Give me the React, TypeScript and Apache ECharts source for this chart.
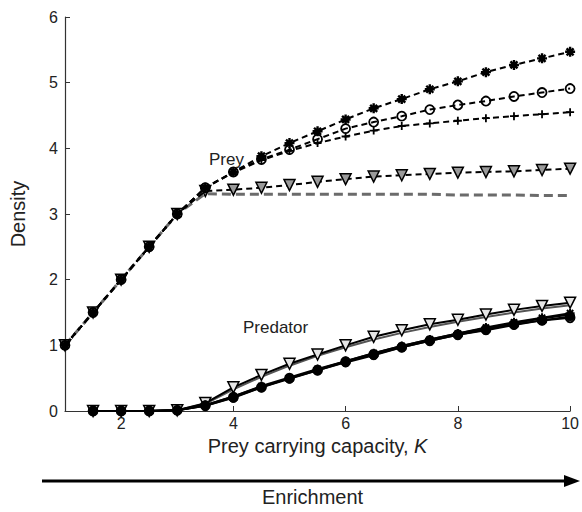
import React, { useEffect, useRef } from "react";
import * as echarts from "echarts";

const K = [1, 1.5, 2, 2.5, 3, 3.5, 4, 4.5, 5, 5.5, 6, 6.5, 7, 7.5, 8, 8.5, 9, 9.5, 10];
const K_PRED = K.slice(1);

const preyStar = [1, 1.5, 2, 2.5, 3, 3.4, 3.64, 3.88, 4.08, 4.26, 4.44, 4.61, 4.75, 4.9, 5.02, 5.16, 5.27, 5.37, 5.47];
const preyCircle = [1, 1.5, 2, 2.5, 3, 3.4, 3.64, 3.83, 3.98, 4.14, 4.3, 4.4, 4.49, 4.59, 4.66, 4.72, 4.79, 4.85, 4.91];
const preyPlus = [1, 1.5, 2, 2.5, 3, 3.4, 3.63, 3.82, 3.96, 4.08, 4.18, 4.27, 4.34, 4.38, 4.42, 4.46, 4.49, 4.52, 4.55];
const preyTri = [1, 1.5, 2, 2.5, 3, 3.35, 3.37, 3.4, 3.44, 3.49, 3.53, 3.57, 3.59, 3.61, 3.63, 3.64, 3.65, 3.67, 3.69];
const preyGray = [1, 1.5, 2, 2.5, 3, 3.31, 3.3, 3.3, 3.3, 3.3, 3.3, 3.3, 3.3, 3.3, 3.29, 3.29, 3.29, 3.28, 3.28];

const predTri = [0, 0, 0, 0.01, 0.12, 0.36, 0.55, 0.72, 0.86, 1.0, 1.13, 1.23, 1.32, 1.39, 1.47, 1.54, 1.6, 1.65];
const predGray = [0, 0, 0, 0.01, 0.11, 0.33, 0.52, 0.69, 0.84, 0.97, 1.09, 1.19, 1.28, 1.36, 1.43, 1.5, 1.56, 1.61];
const predDot = [0, 0, 0, 0.01, 0.08, 0.2, 0.36, 0.49, 0.62, 0.74, 0.85, 0.97, 1.07, 1.16, 1.23, 1.31, 1.38, 1.44];
const predPlus = [0, 0, 0, 0.01, 0.09, 0.22, 0.37, 0.5, 0.63, 0.76, 0.88, 0.99, 1.09, 1.18, 1.26, 1.34, 1.41, 1.47];
const predCircle = [0, 0, 0, 0.01, 0.08, 0.21, 0.36, 0.5, 0.62, 0.75, 0.86, 0.97, 1.07, 1.16, 1.24, 1.32, 1.38, 1.42];
const predStar = [0, 0, 0, 0.01, 0.09, 0.22, 0.38, 0.51, 0.64, 0.76, 0.88, 0.99, 1.09, 1.18, 1.27, 1.35, 1.42, 1.49];

const X_TICKS = [2, 4, 6, 8, 10];

const ASTERISK = "path://M5,0L5,10M0,5L10,5M1.5,1.5L8.5,8.5M8.5,1.5L1.5,8.5";
const PLUS = "path://M5,0L5,10M0,5L10,5";
const FONT = "Liberation Sans, Arial, Helvetica, sans-serif";

function pairs(xs: number[], ys: number[]) {
  return xs.map((x, i) => [x, ys[i]]);
}

export default function App() {
  const ref = useRef<HTMLDivElement>(null);
  useEffect(() => {
    document.body.style.margin = "0";
    if (!ref.current) return;
    const chart = echarts.init(ref.current, null, { renderer: "svg" });
    const preyDash = { color: "#000", width: 2, type: [6, 4] as any };
    const predLine = { color: "#000", width: 2 };
    const series: any[] = [
      {
        type: "line", data: pairs(K, preyGray), showSymbol: false, symbol: "none",
        lineStyle: { color: "#6b6b6b", width: 3, type: [9, 5] }, z: 1,
      },
      {
        type: "line", data: pairs(K, preyTri), symbol: "triangle", symbolRotate: 180, symbolSize: 11,
        lineStyle: preyDash, itemStyle: { color: "#9a9a9a", borderColor: "#000", borderWidth: 1.5 }, z: 2,
      },
      {
        type: "line", data: pairs(K, preyPlus), symbol: PLUS, symbolSize: 8,
        lineStyle: preyDash, itemStyle: { color: "#000", borderColor: "#000", borderWidth: 1.8 }, z: 3,
      },
      {
        type: "line", data: pairs(K, preyCircle), symbol: "circle", symbolSize: 9,
        lineStyle: preyDash, itemStyle: { color: "transparent", borderColor: "#000", borderWidth: 1.8 }, z: 4,
      },
      {
        type: "line", data: pairs(K, preyStar), symbol: ASTERISK, symbolSize: 10,
        lineStyle: preyDash, itemStyle: { color: "#000", borderColor: "#000", borderWidth: 2.4 }, z: 5,
      },
      {
        type: "line", data: pairs(K_PRED, predGray), showSymbol: false, symbol: "none",
        lineStyle: { color: "#555", width: 2 }, z: 1,
      },
      {
        type: "line", data: pairs(K_PRED, predTri), symbol: "triangle", symbolRotate: 180, symbolSize: 11,
        lineStyle: predLine, itemStyle: { color: "#e6e6e6", borderColor: "#000", borderWidth: 1.5 }, z: 2,
      },
      {
        type: "line", data: pairs(K_PRED, predCircle), symbol: "circle", symbolSize: 9,
        lineStyle: predLine, itemStyle: { color: "transparent", borderColor: "#000", borderWidth: 1.8 }, z: 3,
      },
      {
        type: "line", data: pairs(K_PRED, predPlus), symbol: PLUS, symbolSize: 8,
        lineStyle: predLine, itemStyle: { color: "#000", borderColor: "#000", borderWidth: 1.8 }, z: 3,
      },
      {
        type: "line", data: pairs(K_PRED, predStar), symbol: ASTERISK, symbolSize: 9,
        lineStyle: predLine, itemStyle: { color: "#000", borderColor: "#000", borderWidth: 2 }, z: 4,
      },
      {
        type: "line", data: pairs(K_PRED, predDot), symbol: "circle", symbolSize: 9,
        lineStyle: predLine, itemStyle: { color: "#000", borderColor: "#000", borderWidth: 1 }, z: 5,
      },
    ];
    chart.setOption({
      animation: false,
      grid: { left: 58, right: 10, top: 17, bottom: 101, containLabel: false },
      xAxis: {
        type: "value", min: 1, max: 10,
        axisLine: { lineStyle: { color: "#333", width: 1.2 } },
        axisTick: { inside: true, length: 5, customValues: X_TICKS, lineStyle: { color: "#333" } },
        axisLabel: { customValues: X_TICKS, fontSize: 16, color: "#222", margin: 4, fontFamily: FONT },
        splitLine: { show: false },
        name: "Prey carrying capacity, {i|K}",
        nameLocation: "middle", nameGap: 18,
        nameTextStyle: {
          fontSize: 20, color: "#222", fontFamily: FONT,
          rich: { i: { fontSize: 20, fontStyle: "italic", color: "#222", fontFamily: FONT } },
        },
      },
      yAxis: {
        type: "value", min: 0, max: 6, interval: 1,
        axisLine: { show: true, lineStyle: { color: "#333", width: 1.2 } },
        axisTick: { show: true, inside: true, length: 5, lineStyle: { color: "#333" } },
        axisLabel: { fontSize: 16, color: "#222", margin: 7, fontFamily: FONT },
        splitLine: { show: false },
        name: "Density", nameLocation: "middle", nameGap: 37,
        nameTextStyle: { fontSize: 20, color: "#222", fontFamily: FONT },
      },
      graphic: [
        { type: "text", left: 209, top: 151, style: { text: "Prey", fontSize: 17, fill: "#222", fontFamily: FONT } },
        { type: "text", left: 243, top: 319, style: { text: "Predator", fontSize: 17, fill: "#222", fontFamily: FONT } },
        { type: "line", shape: { x1: 42, y1: 481, x2: 566, y2: 481 }, style: { stroke: "#000", lineWidth: 3 } },
        { type: "polygon", shape: { points: [[564, 475], [580, 481], [564, 487]] }, style: { fill: "#000" } },
        { type: "text", left: 262, top: 487, style: { text: "Enrichment", fontSize: 20, fill: "#222", fontFamily: FONT } },
      ],
      series,
    });
    return () => chart.dispose();
  }, []);
  return <div ref={ref} style={{ width: 582, height: 512 }} />;
}
